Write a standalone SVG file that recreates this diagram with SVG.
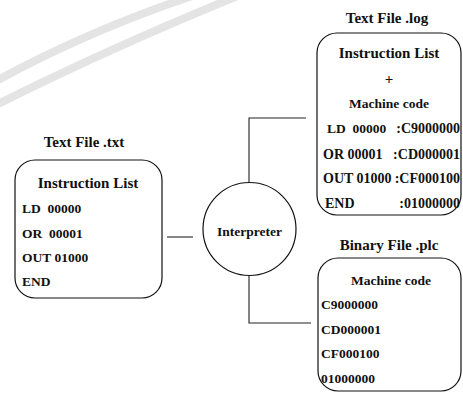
<svg xmlns="http://www.w3.org/2000/svg" width="463" height="393" viewBox="0 0 463 393">
<style>
.box{fill:#fff;stroke:#111;stroke-width:1.2}
.ln{fill:none;stroke:#222;stroke-width:1.1}
text{font-family:'Liberation Serif','Times New Roman',Times,serif;font-weight:700;fill:#111;white-space:pre}
.ti{font-size:15px;text-anchor:middle}
.hd{font-size:15px;text-anchor:middle}
.b{font-size:13.5px}
.v{font-size:14px}
.e{text-anchor:end}
.c{text-anchor:middle}
.wm{fill:none;stroke:#e4e4e4;stroke-width:8}
</style>
<rect width="463" height="393" fill="#fff"/>
<g id="watermark">
<path class="wm" d="M -2 80 Q 90 30 195 -5"/>
<path class="wm" d="M -2 104 Q 110 48 240 -5"/>
</g>
<g id="connectors">
<line class="ln" x1="167" y1="237" x2="193" y2="237"/>
<polyline class="ln" points="249,183 249,118 306,118"/>
<polyline class="ln" points="249,275 249,323 311,323"/>
</g>
<g id="txt">
<text class="ti" x="84" y="147">Text File .txt</text>
<rect class="box" x="15" y="160" width="147" height="138" rx="20" ry="20"/>
<text class="hd" x="88" y="188">Instruction List</text>
<text class="b" x="22" y="213">LD  00000</text>
<text class="b" x="22" y="238">OR  00001</text>
<text class="b" x="22" y="262">OUT 01000</text>
<text class="b" x="22" y="286">END</text>
</g>
<g id="interpreter">
<circle class="box" cx="249.5" cy="229" r="46.5"/>
<text class="b c" x="249.5" y="236">Interpreter</text>
</g>
<g id="log">
<text class="ti" x="387" y="23">Text File .log</text>
<rect class="box" x="317" y="33" width="144" height="182" rx="20" ry="20"/>
<text class="hd" x="389" y="58">Instruction List</text>
<text class="hd" x="389" y="84">+</text>
<text class="b c" x="389" y="108">Machine code</text>
<text class="b" x="327" y="133">LD  00000</text>
<text class="v e" x="460" y="133">:C9000000</text>
<text class="v" x="323" y="159">OR 00001</text>
<text class="v e" x="460" y="159">:CD000001</text>
<text class="v" x="323" y="183">OUT 01000</text>
<text class="v e" x="460" y="183">:CF000100</text>
<text class="v" x="325" y="208">END</text>
<text class="v e" x="460" y="208">:01000000</text>
</g>
<g id="binary">
<text class="ti" x="389" y="250">Binary File .plc</text>
<rect class="box" x="318" y="258" width="143" height="133" rx="20" ry="20"/>
<text class="b c" x="391" y="285">Machine code</text>
<text class="b" x="321" y="309">C9000000</text>
<text class="b" x="321" y="334">CD000001</text>
<text class="b" x="321" y="358">CF000100</text>
<text class="b" x="321" y="383">01000000</text>
</g>
</svg>
